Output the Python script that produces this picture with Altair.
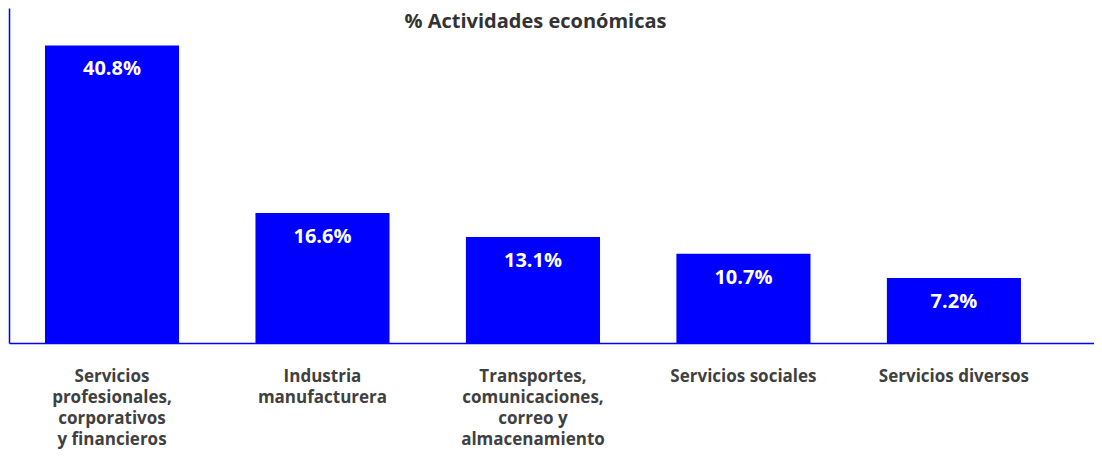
import altair as alt
import pandas as pd

categories = [
    "Servicios\nprofesionales,\ncorporativos\ny financieros",
    "Industria\nmanufacturera",
    "Transportes,\ncomunicaciones,\ncorreo y\nalmacenamiento",
    "Servicios sociales",
    "Servicios diversos",
]
values = [40.8, 16.6, 13.1, 10.7, 7.2]
labels = ["40.8%", "16.6%", "13.1%", "10.7%", "7.2%"]

Y_MIN, Y_MAX = -2.2, 46.2

df = pd.DataFrame({"cat": categories, "val": values, "lab": labels})

FONT = "Open Sans"
BLUE = "#0000FF"

x = alt.X(
    "cat:N",
    sort=categories,
    title=None,
    scale=alt.Scale(paddingInner=0.363, paddingOuter=0.259, align=0.33),
    axis=alt.Axis(
        labelExpr="split(datum.label, '\\n')",
        labelAngle=0,
        labelFont=FONT,
        labelFontSize=17,
        labelFontWeight="bold",
        labelColor="#404040",
        labelLineHeight=21,
        labelBaseline="top",
        labelPadding=25,
        ticks=False,
        domainColor=BLUE,
        domainWidth=1.5,
        labelLimit=300,
    ),
)

y = alt.Y(
    "val:Q",
    title=None,
    scale=alt.Scale(domain=[Y_MIN, Y_MAX], zero=False, nice=False),
    axis=alt.Axis(
        labels=False, ticks=False, grid=False, domainColor=BLUE, domainWidth=1.5
    ),
)

bars = alt.Chart(df).mark_bar(color=BLUE).encode(
    x=x, y=y, y2=alt.datum(Y_MIN)
)

text = alt.Chart(df).mark_text(
    color="white",
    font=FONT,
    fontSize=20,
    fontWeight="bold",
    baseline="top",
    dy=14,
).encode(x=alt.X("cat:N", sort=categories), y="val:Q", text="lab:N")

chart = (
    (bars + text)
    .properties(
        width=1085,
        height=335,
        title=alt.TitleParams(
            "% Actividades económicas",
            font=FONT,
            fontSize=20,
            fontWeight="bold",
            color="#333333",
            anchor="middle",
            dx=-16,
            dy=28,
        ),
        autosize=alt.AutoSizeParams(type="none"),
        padding={"left": 1, "top": 0, "right": 0, "bottom": 106},
    )
    .configure_view(stroke=None)
)

chart.save("out.html", embed_options={"renderer": "svg", "actions": False})
